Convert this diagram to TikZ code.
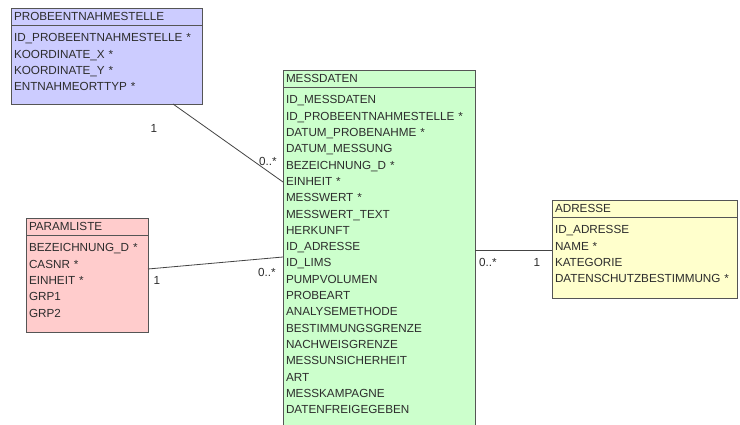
\documentclass[tikz,border=0pt]{standalone}
\usepackage{fontspec}
\setmainfont{Liberation Sans}

\definecolor{rahmen}{RGB}{85,85,85}
\definecolor{schrift}{RGB}{45,45,45}
\definecolor{lila}{RGB}{204,204,255}
\definecolor{gruen}{RGB}{204,255,204}
\definecolor{rosa}{RGB}{255,204,204}
\definecolor{gelb}{RGB}{255,255,204}

\tikzset{
    kopf/.style={draw=rahmen, line width=0.8pt, anchor=north west, outer sep=0pt,
        inner xsep=3pt, inner ysep=0pt, minimum height=17pt, text width=#1,
        align=left, text=schrift, font=\fontsize{11.7}{16.3}\selectfont},
    rumpf/.style={kopf=#1, minimum height=0pt, text height=17pt},
    mult/.style={text=schrift, inner sep=0pt, font=\fontsize{11.7}{14}\selectfont},
    verbindung/.style={draw=rahmen!80!black, line width=0.8pt}
}

\begin{document}
\begin{tikzpicture}[x=1pt, y=-1pt]
    \useasboundingbox (0,0) rectangle (740,425);
    \clip (0,0) rectangle (740,425);
    \fill[white] (0,0) rectangle (740,425);

    % Probeentnahmestelle
    \node[kopf=185pt, fill=lila] (pes) at (11,8) {PROBEENTNAHMESTELLE};
    \node[rumpf=185pt, fill=lila, text depth=62pt] (pesb) at (pes.south west)
        {ID\_PROBEENTNAHMESTELLE *\\ KOORDINATE\_X *\\ KOORDINATE\_Y *\\ ENTNAHMEORTTYP *};

    % Messdaten
    \node[kopf=186pt, fill=gruen] (md) at (283,70) {MESSDATEN};
    \node[rumpf=186pt, fill=gruen, text depth=340pt] (mb) at (md.south west)
        {ID\_MESSDATEN\\ ID\_PROBEENTNAHMESTELLE *\\ DATUM\_PROBENAHME *\\ DATUM\_MESSUNG\\
         BEZEICHNUNG\_D *\\ EINHEIT *\\ MESSWERT *\\ MESSWERT\_TEXT\\ HERKUNFT\\ ID\_ADRESSE\\
         ID\_LIMS\\ PUMPVOLUMEN\\ PROBEART\\ ANALYSEMETHODE\\ BESTIMMUNGSGRENZE\\
         NACHWEISGRENZE\\ MESSUNSICHERHEIT\\ ART\\ MESSKAMPAGNE\\ DATENFREIGEGEBEN};

    % Paramliste
    \node[kopf=116pt, fill=rosa] (pl) at (26,218) {PARAMLISTE};
    \node[rumpf=116pt, fill=rosa, text depth=80pt] (pb) at (pl.south west)
        {BEZEICHNUNG\_D *\\ CASNR *\\ EINHEIT *\\ GRP1\\ GRP2};

    % Adresse
    \node[kopf=179pt, fill=gelb] (ad) at (552,200) {ADRESSE};
    \node[rumpf=179pt, fill=gelb, text depth=64pt] (ab) at (ad.south west)
        {ID\_ADRESSE\\ NAME *\\ KATEGORIE\\ DATENSCHUTZBESTIMMUNG *};

    % Beziehungen
    \draw[verbindung] ([xshift=162pt]pesb.south west) -- ([yshift=-95pt]mb.north west);
    \node[mult] (m1) at (154,128) {1};
    \node[mult] (m2) at (268,161) {0..*};

    \draw[verbindung] ([yshift=-34pt]pb.north east) -- ([yshift=-170pt]mb.north west);
    \node[mult] (m3) at (157,280) {1};
    \node[mult] (m4) at (267,272) {0..*};

    \coordinate (adr) at ([yshift=-33pt]ab.north west);
    \draw[verbindung] (adr) -- (adr -| mb.east);
    \node[mult] (m5) at (488,262) {0..*};
    \node[mult] (m6) at (537,262) {1};
\end{tikzpicture}
\end{document}
